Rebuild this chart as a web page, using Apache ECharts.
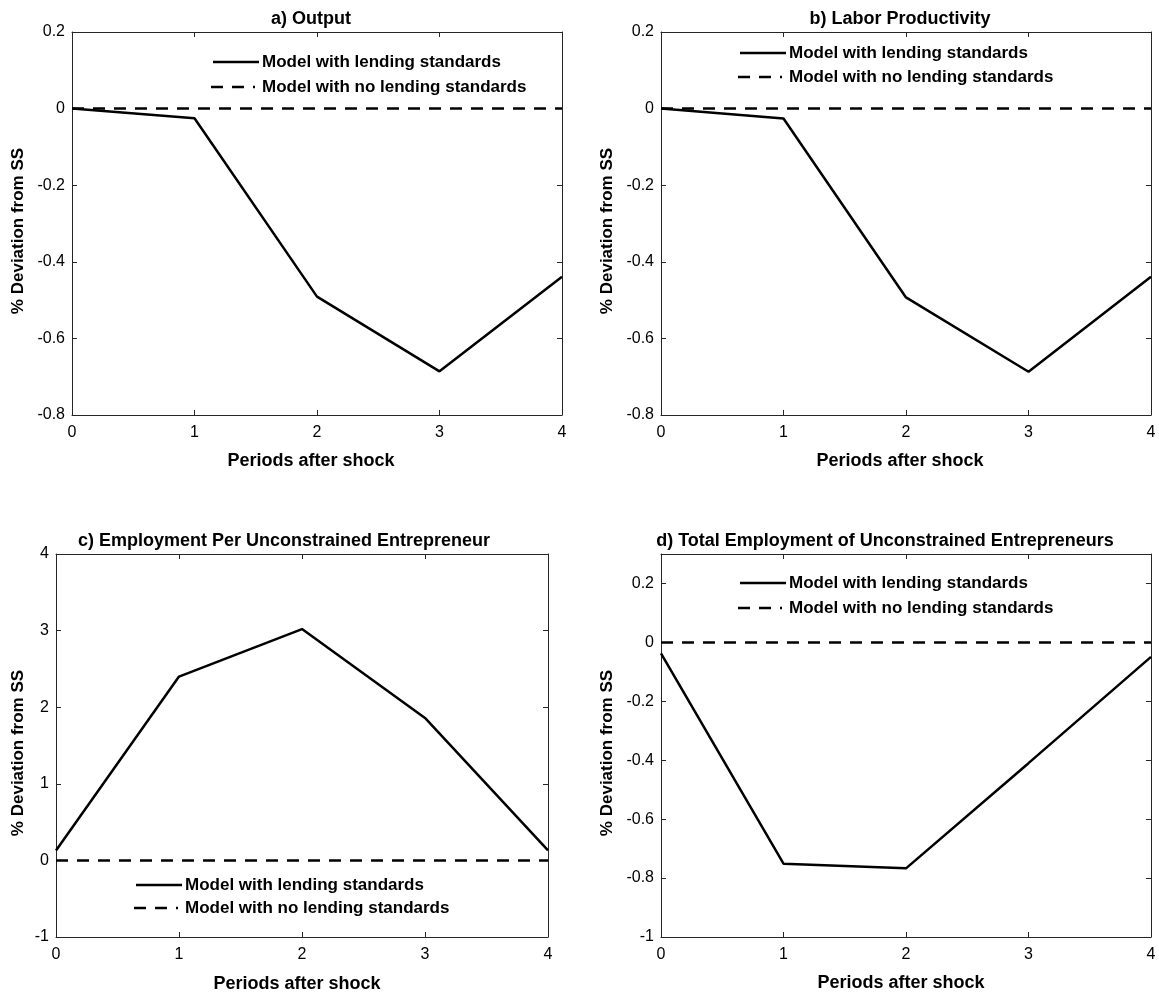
<!DOCTYPE html>
<html>
<head>
<meta charset="utf-8">
<style>
  html, body { margin: 0; padding: 0; background: #fff; }
  #chart { width: 1159px; height: 998px; }
</style>
<script src="https://cdn.jsdelivr.net/npm/echarts@6/dist/echarts.min.js"></script>
</head>
<body>
<div id="chart"></div>
<script>
// Impulse responses, periods 0..4 after the shock (% deviation from steady state)
const periods = [0, 1, 2, 3, 4];

const outputLending       = [0, -0.025, -0.491, -0.686, -0.439];
const outputNoLending     = [0, 0, 0, 0, 0];

const productivityLending   = [0, -0.026, -0.493, -0.687, -0.439];
const productivityNoLending = [0, 0, 0, 0, 0];

const employmentPerLending   = [0.13, 2.40, 3.02, 1.86, 0.13];
const employmentPerNoLending = [0, 0, 0, 0, 0];

const totalEmploymentLending   = [-0.037, -0.751, -0.767, -0.41, -0.049];
const totalEmploymentNoLending = [0, 0, 0, 0, 0];

const titles = [
  'a) Output',
  'b) Labor Productivity',
  'c) Employment Per Unconstrained Entrepreneur',
  'd) Total Employment of Unconstrained Entrepreneurs'
];
const seriesNames = ['Model with lending standards', 'Model with no lending standards'];
const xAxisTitle = 'Periods after shock';
const yAxisTitle = '% Deviation from SS';

const FONT = '"Liberation Sans", Arial, Helvetica, sans-serif';
const INK = '#000';
const AXIS = '#262626';

// Layout of the four panels
const panels = [
  { lending: outputLending, none: outputNoLending, yMin: -0.8, yMax: 0.2, yStep: 0.2,
    grid: { left: 72, top: 32, width: 490, height: 383 },
    titleX: 311, titleY: 19, legX: 213, legY1: 62, legY2: 87, yNameX: 18, yNameY: 231, xNameX: 311, xNameY: 461 },
  { lending: productivityLending, none: productivityNoLending, yMin: -0.8, yMax: 0.2, yStep: 0.2,
    grid: { left: 661, top: 32, width: 490, height: 383 },
    titleX: 900, titleY: 19, legX: 740, legY1: 53, legY2: 77, yNameX: 607, yNameY: 231, xNameX: 900, xNameY: 461 },
  { lending: employmentPerLending, none: employmentPerNoLending, yMin: -1, yMax: 4, yStep: 1,
    grid: { left: 56, top: 554, width: 492, height: 383 },
    titleX: 284, titleY: 541, legX: 136, legY1: 885, legY2: 908, yNameX: 18, yNameY: 753, xNameX: 297, xNameY: 984 },
  { lending: totalEmploymentLending, none: totalEmploymentNoLending, yMin: -1, yMax: 0.3, yStep: 0.2,
    grid: { left: 661, top: 554, width: 490, height: 383 },
    titleX: 885, titleY: 541, legX: 740, legY1: 583, legY2: 608, yNameX: 607, yNameY: 753, xNameX: 901, xNameY: 983 }
];

const fmt = v => String(Number(v.toFixed(2)));
// the top label is only drawn when the axis maximum falls on a step
const maxOnStep = p => {
  const n = (p.yMax - p.yMin) / p.yStep;
  return Math.abs(n - Math.round(n)) < 1e-9;
};

const grid = [], xAxis = [], yAxis = [], series = [], graphic = [];

panels.forEach((p, i) => {
  grid.push(Object.assign({ containLabel: false }, p.grid));

  const tick = { show: true, inside: true, length: 5, lineStyle: { color: AXIS, width: 1 } };
  const line = { show: true, onZero: false, lineStyle: { color: AXIS, width: 1 } };

  // bottom and top x axes (box)
  xAxis.push({
    type: 'value', gridIndex: i, min: 0, max: 4, interval: 1, position: 'bottom',
    axisLine: line, axisTick: tick, splitLine: { show: false },
    axisLabel: { color: INK, fontSize: 16, fontFamily: FONT, margin: 10, formatter: fmt }
  });
  xAxis.push({
    type: 'value', gridIndex: i, min: 0, max: 4, interval: 1, position: 'top',
    axisLine: line, axisTick: tick, splitLine: { show: false }, axisLabel: { show: false }
  });
  // left and right y axes (box)
  yAxis.push({
    type: 'value', gridIndex: i, min: p.yMin, max: p.yMax, interval: p.yStep, position: 'left',
    axisLine: line, axisTick: tick, splitLine: { show: false },
    axisLabel: { color: INK, fontSize: 16, fontFamily: FONT, margin: 7, formatter: fmt,
                 showMaxLabel: maxOnStep(p) }
  });
  yAxis.push({
    type: 'value', gridIndex: i, min: p.yMin, max: p.yMax, interval: p.yStep, position: 'right',
    axisLine: line, axisTick: tick, splitLine: { show: false }, axisLabel: { show: false }
  });

  const xi = i * 2, yi = i * 2;
  series.push({
    name: seriesNames[1], type: 'line', xAxisIndex: xi, yAxisIndex: yi,
    data: periods.map((t, k) => [t, p.none[k]]),
    showSymbol: false, symbol: 'none', silent: true, animation: false,
    lineStyle: { color: INK, width: 2.5, type: [12, 9] }
  });
  series.push({
    name: seriesNames[0], type: 'line', xAxisIndex: xi, yAxisIndex: yi,
    data: periods.map((t, k) => [t, p.lending[k]]),
    showSymbol: false, symbol: 'none', silent: true, animation: false,
    lineStyle: { color: INK, width: 2.5, type: 'solid' }
  });

  // panel title
  graphic.push({ type: 'text', x: p.titleX, y: p.titleY, silent: true,
    style: { text: titles[i], fill: INK, fontSize: 18, fontWeight: 'bold', fontFamily: FONT,
             align: 'center', verticalAlign: 'middle' } });
  // axis titles
  graphic.push({ type: 'text', x: p.xNameX, y: p.xNameY, silent: true,
    style: { text: xAxisTitle, fill: INK, fontSize: 18, fontWeight: 'bold', fontFamily: FONT,
             align: 'center', verticalAlign: 'middle' } });
  graphic.push({ type: 'text', x: p.yNameX, y: p.yNameY, rotation: Math.PI / 2, silent: true,
    style: { text: yAxisTitle, fill: INK, fontSize: 17, fontWeight: 'bold', fontFamily: FONT,
             align: 'center', verticalAlign: 'middle' } });

  // legend entries
  graphic.push({ type: 'line', silent: true,
    shape: { x1: p.legX, y1: p.legY1, x2: p.legX + 46, y2: p.legY1 },
    style: { stroke: INK, lineWidth: 2.5 } });
  graphic.push({ type: 'line', silent: true,
    shape: { x1: p.legX - 2, y1: p.legY2, x2: p.legX + 42, y2: p.legY2 },
    style: { stroke: INK, lineWidth: 2.5, lineDash: [12, 9] } });
  graphic.push({ type: 'text', x: p.legX + 49, y: p.legY1, silent: true,
    style: { text: seriesNames[0], fill: INK, fontSize: 17, fontWeight: 'bold', fontFamily: FONT,
             align: 'left', verticalAlign: 'middle' } });
  graphic.push({ type: 'text', x: p.legX + 49, y: p.legY2, silent: true,
    style: { text: seriesNames[1], fill: INK, fontSize: 17, fontWeight: 'bold', fontFamily: FONT,
             align: 'left', verticalAlign: 'middle' } });
});

const chart = echarts.init(document.getElementById('chart'), null, { renderer: 'canvas' });
chart.setOption({
  backgroundColor: '#fff',
  animation: false,
  grid, xAxis, yAxis, series, graphic
});
</script>
</body>
</html>
